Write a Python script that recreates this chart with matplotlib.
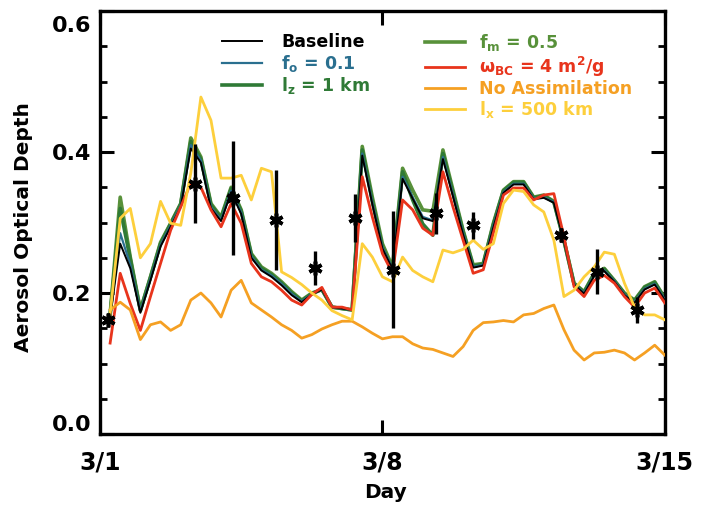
import numpy as np
import matplotlib.pyplot as plt
import matplotlib.transforms as mtransforms

plt.rcParams['font.family'] = ['DejaVu Sans']
plt.rcParams['font.weight'] = 'bold'
plt.rcParams['mathtext.default'] = 'bf'

# model output every 6 hours from 3/1 06Z to 3/15 00Z
hours = np.arange(6, 337, 6)
days = 1 + hours / 24.0

baseline = [0.165, 0.270, 0.235, 0.172, 0.218, 0.266, 0.294, 0.322, 0.405, 0.385,
            0.320, 0.302, 0.343, 0.312, 0.250, 0.232, 0.223, 0.211, 0.197, 0.187,
            0.198, 0.205, 0.180, 0.178, 0.176, 0.395, 0.326, 0.263, 0.234, 0.362,
            0.334, 0.306, 0.302, 0.390, 0.337, 0.283, 0.236, 0.239, 0.293, 0.342,
            0.354, 0.354, 0.333, 0.335, 0.328, 0.274, 0.212, 0.199, 0.224, 0.231,
            0.216, 0.197, 0.186, 0.205, 0.212, 0.190]
f_o = [0.167, 0.285, 0.240, 0.174, 0.220, 0.268, 0.296, 0.324, 0.410, 0.388,
       0.322, 0.304, 0.345, 0.314, 0.252, 0.233, 0.225, 0.213, 0.199, 0.188,
       0.199, 0.205, 0.180, 0.178, 0.176, 0.398, 0.328, 0.265, 0.235, 0.365,
       0.336, 0.308, 0.303, 0.393, 0.339, 0.285, 0.237, 0.240, 0.295, 0.343,
       0.355, 0.355, 0.334, 0.336, 0.329, 0.275, 0.213, 0.200, 0.225, 0.232,
       0.217, 0.198, 0.187, 0.206, 0.213, 0.191]
l_z = [0.168, 0.320, 0.248, 0.175, 0.222, 0.270, 0.298, 0.326, 0.415, 0.390,
       0.325, 0.306, 0.348, 0.316, 0.254, 0.235, 0.226, 0.214, 0.200, 0.189,
       0.199, 0.205, 0.180, 0.178, 0.176, 0.403, 0.330, 0.265, 0.233, 0.372,
       0.332, 0.298, 0.282, 0.398, 0.342, 0.287, 0.238, 0.241, 0.297, 0.345,
       0.357, 0.357, 0.335, 0.338, 0.329, 0.274, 0.213, 0.201, 0.227, 0.234,
       0.217, 0.199, 0.189, 0.208, 0.215, 0.192]
f_m = [0.170, 0.336, 0.251, 0.176, 0.223, 0.272, 0.299, 0.327, 0.420, 0.393,
       0.327, 0.308, 0.350, 0.318, 0.256, 0.237, 0.228, 0.216, 0.202, 0.190,
       0.200, 0.205, 0.180, 0.178, 0.176, 0.408, 0.336, 0.270, 0.237, 0.377,
       0.346, 0.318, 0.316, 0.403, 0.346, 0.289, 0.240, 0.242, 0.299, 0.346,
       0.358, 0.358, 0.336, 0.339, 0.330, 0.275, 0.214, 0.202, 0.228, 0.235,
       0.218, 0.200, 0.190, 0.209, 0.216, 0.193]
omega_bc = [0.129, 0.228, 0.185, 0.147, 0.195, 0.242, 0.289, 0.322, 0.356, 0.350,
            0.318, 0.294, 0.327, 0.299, 0.242, 0.223, 0.216, 0.204, 0.190, 0.183,
            0.198, 0.208, 0.180, 0.180, 0.176, 0.365, 0.308, 0.256, 0.228, 0.332,
            0.318, 0.292, 0.282, 0.372, 0.322, 0.275, 0.228, 0.233, 0.285, 0.339,
            0.349, 0.349, 0.332, 0.339, 0.341, 0.280, 0.209, 0.195, 0.218, 0.225,
            0.214, 0.195, 0.180, 0.200, 0.207, 0.186]
no_assim = [0.176, 0.187, 0.176, 0.134, 0.155, 0.159, 0.147, 0.155, 0.190, 0.200,
            0.186, 0.166, 0.204, 0.218, 0.186, 0.176, 0.166, 0.155, 0.147, 0.136,
            0.141, 0.149, 0.155, 0.160, 0.160, 0.152, 0.143, 0.135, 0.138, 0.138,
            0.128, 0.122, 0.120, 0.115, 0.110, 0.124, 0.147, 0.158, 0.159, 0.161,
            0.159, 0.169, 0.171, 0.178, 0.183, 0.148, 0.119, 0.105, 0.115, 0.116,
            0.119, 0.115, 0.105, 0.115, 0.126, 0.112]
l_x = [0.170, 0.306, 0.320, 0.250, 0.270, 0.330, 0.299, 0.296, 0.370, 0.478,
       0.445, 0.363, 0.363, 0.367, 0.332, 0.377, 0.372, 0.230, 0.222, 0.212,
       0.200, 0.190, 0.175, 0.168, 0.162, 0.270, 0.251, 0.223, 0.216, 0.251,
       0.232, 0.223, 0.216, 0.261, 0.257, 0.262, 0.275, 0.262, 0.270, 0.327,
       0.346, 0.344, 0.325, 0.315, 0.275, 0.195, 0.204, 0.223, 0.237, 0.258,
       0.255, 0.214, 0.180, 0.169, 0.169, 0.162]

# sun photometer retrievals
obs_day = [1.20, 3.35, 4.29, 5.35, 6.32, 7.31, 8.27, 9.34, 10.25, 12.43, 13.32, 14.31]
obs_aod = [0.162, 0.355, 0.335, 0.303, 0.235, 0.306, 0.233, 0.313, 0.296, 0.282, 0.230, 0.176]
obs_err = [0.008, 0.056, 0.081, 0.071, 0.024, 0.034, 0.083, 0.029, 0.019, 0.008, 0.032, 0.019]

fig = plt.figure(figsize=(7.02, 5.09), dpi=100)
ax = fig.add_axes([0.1425, 0.1473, 0.8045, 0.831])

ax.plot(days, f_m, color='#58913a', lw=2.6, label=r'f$_m$ = 0.5', zorder=2)
ax.plot(days, l_z, color='#2f7a36', lw=2.6, label=r'l$_z$ = 1 km', zorder=2)
ax.plot(days, f_o, color='#2a6f8f', lw=1.6, label=r'f$_o$ = 0.1', zorder=3)
ax.plot(days, baseline, color='black', lw=1.4, label='Baseline', zorder=3)
ax.plot(days, omega_bc, color='#e8341c', lw=2.0, label=r'$\omega_{BC}$ = 4 m$^2$/g', zorder=4)
ax.plot(days, no_assim, color='#f5a023', lw=2.0, label='No Assimilation', zorder=4)
ax.plot(days, l_x, color='#fdcf3c', lw=2.0, label=r'l$_x$ = 500 km', zorder=4)

ax.errorbar(obs_day, obs_aod, yerr=obs_err, fmt='none', ecolor='black',
            elinewidth=2.4, capsize=0, zorder=5)
ax.plot(obs_day, obs_aod, ls='none', marker=(6, 2, 0), ms=10, mew=2.6,
        color='black', zorder=6)

handles, labels = ax.get_legend_handles_labels()
by_label = dict(zip(labels, handles))
left_keys = ['Baseline', r'f$_o$ = 0.1', r'l$_z$ = 1 km']
right_keys = [r'f$_m$ = 0.5', r'$\omega_{BC}$ = 4 m$^2$/g', 'No Assimilation', r'l$_x$ = 500 km']

leg_kw = dict(frameon=False, fontsize=12.5, labelcolor='linecolor', handlelength=2.3,
              borderpad=0, borderaxespad=0, labelspacing=0.08, loc='upper left')
leg1 = ax.legend([by_label[k] for k in left_keys], left_keys,
                 bbox_to_anchor=(0.216, 0.947), handletextpad=1.1, **leg_kw)
ax.add_artist(leg1)
ax.legend([by_label[k] for k in right_keys], right_keys,
          bbox_to_anchor=(0.575, 0.95), handletextpad=0.8, **leg_kw)

ax.set_xlim(1, 15)
ax.set_ylim(0, 0.6)
ax.set_xticks([1, 8, 15])
ax.set_xticklabels(['3/1', '3/8', '3/15'])
ax.set_yticks([0.0, 0.2, 0.4, 0.6])
ax.set_yticklabels(['0.0', '0.2', '0.4', '0.6'])
ax.set_yticks(np.arange(0, 0.61, 0.05), minor=True)

ax.tick_params(axis='both', which='major', direction='in', length=10, width=2.2,
               top=True, right=True)
ax.tick_params(axis='y', which='minor', direction='in', length=5, width=2,
               left=True, right=True)
ax.tick_params(axis='x', which='minor', bottom=False, top=False)
ax.tick_params(axis='x', labelsize=17, pad=12)
ax.tick_params(axis='y', labelsize=16, pad=6)
for lbl in ax.get_xticklabels() + ax.get_yticklabels():
    lbl.set_fontweight('bold')

# end labels on the y axis sit just inside the frame
ylbls = ax.get_yticklabels()
ylbls[0].set_transform(ylbls[0].get_transform() +
                       mtransforms.ScaledTranslation(0, 8 / 72, fig.dpi_scale_trans))
ylbls[-1].set_transform(ylbls[-1].get_transform() +
                        mtransforms.ScaledTranslation(0, -9 / 72, fig.dpi_scale_trans))

for spine in ax.spines.values():
    spine.set_linewidth(2.4)

ax.set_xlabel('Day', fontsize=14.5, fontweight='bold')
ax.set_ylabel('Aerosol Optical Depth', fontsize=14.5, fontweight='bold')
ax.xaxis.set_label_coords(0.505, -0.115)
ax.yaxis.set_label_coords(-0.118, 0.49)

fig.savefig('out.png', dpi=100)
